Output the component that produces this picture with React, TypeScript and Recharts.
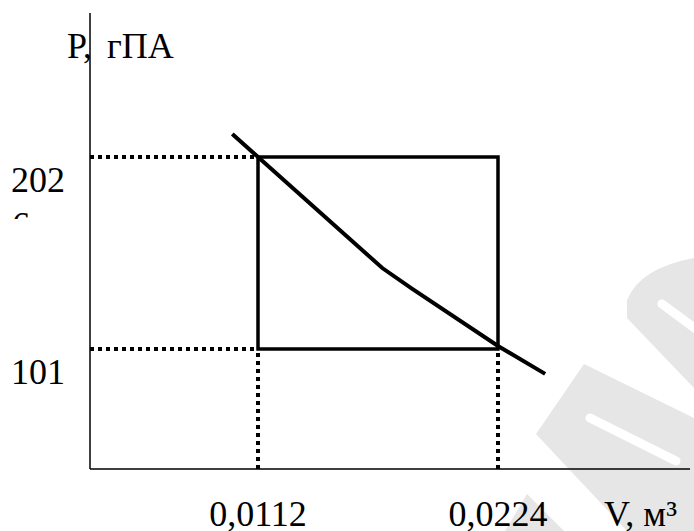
import React from 'react';
import { ComposedChart, Line, XAxis, YAxis, ReferenceLine, ReferenceArea, Label } from 'recharts';

// Process curve (V in m³, P in hPa)
const V_VALUES = [0.01, 0.0112, 0.017, 0.0184, 0.0224, 0.0246];
const P_VALUES = [214.1, 202, 143.6, 132.6, 102.6, 87.9];
// State points of the rectangle cycle
const STATE_V = [0.0112, 0.0224];
const STATE_P = [101, 202];
// Axes
const V_TICKS = [0.0112, 0.0224];
const P_TICKS = [101, 202];
const V_DOMAIN: [number, number] = [0.00336, 0.03136];
const P_DOMAIN: [number, number] = [37.875, 277.75];
const X_TITLE = ['V,', ' м³'];
const Y_TITLE = ['P,', ' гПА'];

const curve = V_VALUES.map((v, i) => ({ v, p: P_VALUES[i] }));

const FONT = "'Liberation Serif', 'Times New Roman', serif";
const FS = 36;

const fmt = (n: number) => String(n).replace('.', ',');

const XTick = (props: any) => {
  const { x, y, payload } = props;
  return (
    <text x={x} y={y + 57} textAnchor="middle" fontFamily={FONT} fontSize={FS} fill="#000">
      {fmt(payload.value)}
    </text>
  );
};

const YTick = (props: any) => {
  const { x, y, payload } = props;
  return (
    <text x={x - 25} y={y + 35} textAnchor="end" fontFamily={FONT} fontSize={FS} fill="#000">
      {fmt(payload.value)}
    </text>
  );
};

const YTitle = (props: any) => {
  const vb = props.viewBox || { x: 0, y: 13 };
  return (
    <text x={vb.x + 67} y={vb.y + 45} fontFamily={FONT} fontSize={FS} fill="#000" style={{ whiteSpace: 'pre' }}>
      <tspan>{Y_TITLE[0]}</tspan>
      <tspan dx={6}>{Y_TITLE[1]}</tspan>
    </text>
  );
};

const XTitle = (props: any) => {
  const vb = props.viewBox || { x: 90, y: 469, width: 598 };
  return (
    <text x={vb.x + vb.width - 86} y={vb.y + 57} fontFamily={FONT} fontSize={FS} fill="#000" style={{ whiteSpace: 'pre' }}>
      <tspan>{X_TITLE[0]}</tspan>
      <tspan>{X_TITLE[1]}</tspan>
    </text>
  );
};

const Watermark = () => (
  <svg width={694} height={531} style={{ position: 'absolute', left: 0, top: 0 }}>
    <defs>
      <clipPath id="fragClip">
        <rect x={0} y={200} width={60} height={19} />
      </clipPath>
    </defs>
    <g fill="#e6e6e6">
      <polygon points="584,364 694,418 694,531 627,531 536,434" />
      <path d="M627,318 L627,300 Q640,268 694,258 L694,388 Z" />
      <polygon points="527,494 564,531 505,531" />
    </g>
    <g stroke="#fff" strokeWidth={9} strokeLinecap="round">
      <line x1={590} y1={418} x2={676} y2={461} />
      <line x1={662} y1={304} x2={700} y2={332} />
    </g>
    <text x={12} y={237} fontFamily={FONT} fontSize={FS} fill="#000" clipPath="url(#fragClip)">6</text>
  </svg>
);

export default function App() {
  return (
    <div style={{ position: 'absolute', left: 0, top: 0, width: 694, height: 531, background: '#fff' }}>
      <Watermark />
      <div style={{ position: 'absolute', left: 0, top: 0 }}>
        <ComposedChart width={694} height={531} data={curve} margin={{ top: 13, right: 4, bottom: 0, left: 0 }}>
          <XAxis
            type="number"
            dataKey="v"
            domain={V_DOMAIN}
            ticks={V_TICKS}
            interval={0}
            allowDataOverflow
            tickLine={false}
            tickSize={0}
            tickMargin={0}
            height={62}
            axisLine={{ stroke: '#000', strokeWidth: 1.5 }}
            tick={<XTick />}
          >
            <Label content={<XTitle />} />
          </XAxis>
          <YAxis
            type="number"
            domain={P_DOMAIN}
            ticks={P_TICKS}
            interval={0}
            allowDataOverflow
            tickLine={false}
            tickSize={0}
            tickMargin={0}
            width={90}
            axisLine={{ stroke: '#000', strokeWidth: 1.5 }}
            tick={<YTick />}
          >
            <Label content={<YTitle />} />
          </YAxis>
          {STATE_P.map((p) => (
            <ReferenceLine
              key={'h' + p}
              segment={[{ x: V_DOMAIN[0], y: p }, { x: STATE_V[0], y: p }]}
              stroke="#000"
              strokeWidth={4}
              strokeDasharray="4 4"
              ifOverflow="visible"
            />
          ))}
          {STATE_V.map((v) => (
            <ReferenceLine
              key={'v' + v}
              segment={[{ x: v, y: P_DOMAIN[0] }, { x: v, y: STATE_P[0] }]}
              stroke="#000"
              strokeWidth={4}
              strokeDasharray="4 4"
              ifOverflow="visible"
            />
          ))}
          <ReferenceArea
            x1={STATE_V[0]}
            x2={STATE_V[1]}
            y1={STATE_P[0]}
            y2={STATE_P[1]}
            fill="none"
            fillOpacity={0}
            stroke="#000"
            strokeWidth={3.5}
            ifOverflow="visible"
          />
          <Line
            dataKey="p"
            type="linear"
            stroke="#000"
            strokeWidth={4}
            dot={false}
            activeDot={false}
            isAnimationActive={false}
          />
        </ComposedChart>
      </div>
    </div>
  );
}
